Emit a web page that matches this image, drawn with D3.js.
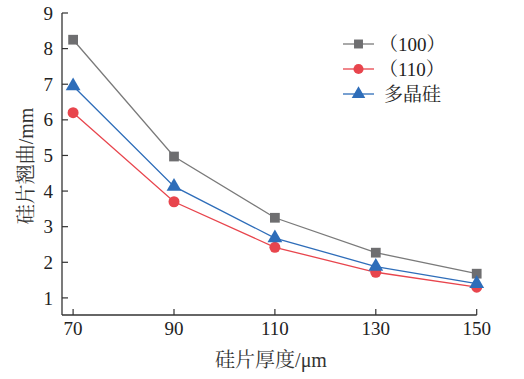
<!DOCTYPE html>
<html><head><meta charset="utf-8">
<script src="https://cdn.jsdelivr.net/npm/d3@7"></script>
<style>body{margin:0;background:#fff}</style>
</head><body><svg id="c" width="524" height="379"></svg>
<script>
const thickness = [70, 90, 110, 130, 150];
const seriesNames = ["（100）", "（110）", "多晶硅"];
const s100 = [8.25, 4.97, 3.25, 2.27, 1.68];
const s110 = [6.2, 3.7, 2.42, 1.72, 1.3];
const sPoly = [6.95, 4.13, 2.68, 1.88, 1.4];
const yTicks = [1, 2, 3, 4, 5, 6, 7, 8, 9];
const xLabel = "硅片厚度/μm";
const yLabel = "硅片翘曲/mm";

const series = [
  {name: seriesNames[0], values: s100, color: "#6e6e70", line: "#7a7a7a", shape: d3.symbolSquare, size: 95},
  {name: seriesNames[1], values: s110, color: "#e8454d", line: "#e8454d", shape: d3.symbolCircle, size: 95},
  {name: seriesNames[2], values: sPoly, color: "#2e6db9", line: "#2e6db9", shape: d3.symbolTriangle, size: 95}
];

const svg = d3.select("#c");
const font = "'Liberation Serif','Times New Roman','Noto Serif CJK SC','Noto Sans CJK SC',serif";
const x = d3.scaleLinear().domain([67.8, 150]).range([62, 476.7]);
const y = d3.scaleLinear().domain([0.52, 9]).range([315, 13]);

const g = svg.append("g");
g.append("line").attr("x1", 62).attr("x2", 62).attr("y1", y(9)).attr("y2", y(0.52)).attr("stroke", "#333").attr("stroke-width", 1.3);
g.append("line").attr("x1", 62).attr("x2", x(150)).attr("y1", 315).attr("y2", 315).attr("stroke", "#333").attr("stroke-width", 1.3);

yTicks.forEach(t => {
  g.append("line").attr("x1", 62).attr("x2", 68).attr("y1", y(t)).attr("y2", y(t)).attr("stroke", "#333").attr("stroke-width", 1.2);
  g.append("text").attr("x", 53).attr("y", y(t)).attr("dy", "0.35em").attr("text-anchor", "end")
    .attr("font-family", font).attr("font-size", 19).attr("fill", "#222").text(t);
});
thickness.forEach(t => {
  g.append("line").attr("x1", x(t)).attr("x2", x(t)).attr("y1", 315).attr("y2", 309).attr("stroke", "#333").attr("stroke-width", 1.2);
  g.append("text").attr("x", x(t)).attr("y", 335).attr("text-anchor", "middle")
    .attr("font-family", font).attr("font-size", 19).attr("fill", "#222").text(t);
});

g.append("text").attr("x", 271).attr("y", 367).attr("text-anchor", "middle")
  .attr("font-family", font).attr("font-size", 20).attr("fill", "#333").text(xLabel);
g.append("text").attr("transform", "translate(33,166) rotate(-90)").attr("text-anchor", "middle")
  .attr("font-family", font).attr("font-size", 20).attr("fill", "#333").text(yLabel);

const line = d3.line().x((d, i) => x(thickness[i])).y(d => y(d));
series.forEach(s => {
  g.append("path").datum(s.values).attr("d", line).attr("fill", "none").attr("stroke", s.line).attr("stroke-width", 1.3);
  g.selectAll(null).data(s.values).enter().append("path")
    .attr("transform", (d, i) => `translate(${x(thickness[i])},${y(d)})`)
    .attr("d", d3.symbol().type(s.shape).size(s.size)).attr("fill", s.color);
});

series.forEach((s, i) => {
  const ly = 44 + i * 25;
  g.append("line").attr("x1", 343).attr("x2", 374).attr("y1", ly).attr("y2", ly).attr("stroke", s.line).attr("stroke-width", 1.3);
  g.append("path").attr("transform", `translate(358.5,${ly})`).attr("d", d3.symbol().type(s.shape).size(80)).attr("fill", s.color);
  g.append("text").attr("x", i < 2 ? 379 : 384).attr("y", ly).attr("dy", "0.35em").attr("font-family", font).attr("font-size", 19).attr("fill", "#222").text(s.name);
});
</script></body></html>
